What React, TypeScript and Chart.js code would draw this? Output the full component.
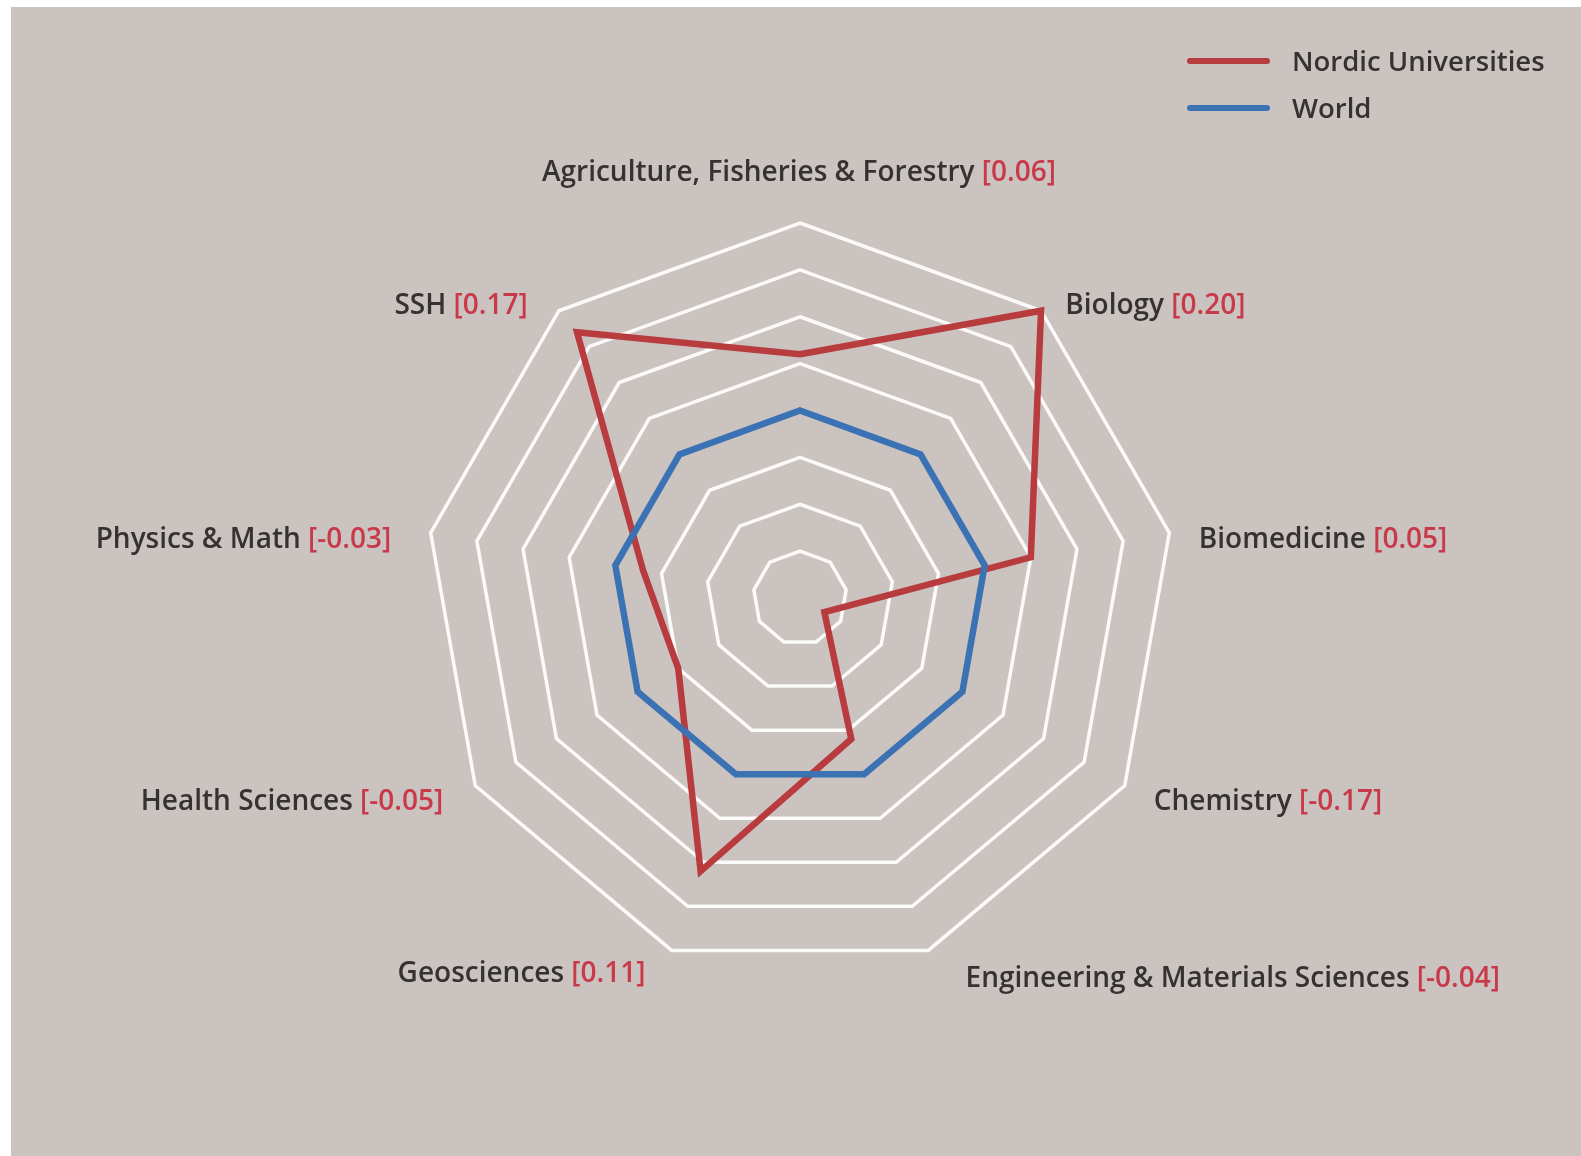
import React, { useEffect, useRef } from "react";
import { Chart, registerables } from "chart.js";

Chart.register(...registerables);

const categories = [
  "Agriculture, Fisheries & Forestry",
  "Biology",
  "Biomedicine",
  "Chemistry",
  "Engineering & Materials Sciences",
  "Geosciences",
  "Health Sciences",
  "Physics & Math",
  "SSH",
];
const nordicValues = [0.06, 0.2, 0.05, -0.17, -0.04, 0.11, -0.05, -0.03, 0.17];
const worldValues = [0, 0, 0, 0, 0, 0, 0, 0, 0];
const valueLabels = ["[0.06]", "[0.20]", "[0.05]", "[-0.17]", "[-0.04]", "[0.11]", "[-0.05]", "[-0.03]", "[0.17]"];
const seriesNames = ["Nordic Universities", "World"];

const RED = "#b83b3e";
const BLUE = "#3a72b4";
const LABEL_RED = "#c8394a";
const TEXT = "#353232";
const BG = "#cbc3c0";
const FONT = "600 28px 'Open Sans', Lato, sans-serif";
const LEGEND_FONT = "600 27.5px 'Open Sans', Lato, sans-serif";

// label placement tweaks (pixels) relative to anchor at outer radius + 30
const labelNudge = [
  [-1, -20],
  [5, 18],
  [0, 12],
  [3, 2],
  [27, 0],
  [-16, -5],
  [-6, 2],
  [-10, 12],
  [-12, 18],
];

const labelPlugin = {
  id: "customLabels",
  afterDatasetsDraw(chart: any) {
    const ctx = chart.ctx;
    const scale = chart.scales.r;
    ctx.save();
    ctx.font = FONT;
    ctx.textBaseline = "middle";
    categories.forEach((name, i) => {
      const p = scale.getPointPosition(i, scale.drawingArea + 30);
      const angle = (i * 360) / categories.length;
      const first = name + " ";
      const second = valueLabels[i];
      const w1 = ctx.measureText(first).width;
      const w2 = ctx.measureText(second).width;
      const total = w1 + w2;
      let left: number;
      if (angle === 0 || angle === 180) left = p.x - total / 2;
      else if (angle < 180) left = p.x;
      else left = p.x - total;
      left += labelNudge[i][0];
      const y = p.y + labelNudge[i][1];
      ctx.textAlign = "left";
      ctx.fillStyle = TEXT;
      ctx.fillText(first, left, y);
      ctx.fillStyle = LABEL_RED;
      ctx.fillText(second, left + w1, y);
    });

    // legend
    const colors = [RED, BLUE];
    const legX = chart.width - 391;
    ctx.font = LEGEND_FONT;
    seriesNames.forEach((n, i) => {
      const y = 54 + i * 47;
      ctx.strokeStyle = colors[i];
      ctx.lineWidth = 6;
      ctx.lineCap = "round";
      ctx.beginPath();
      ctx.moveTo(legX, y);
      ctx.lineTo(legX + 77, y);
      ctx.stroke();
      ctx.fillStyle = TEXT;
      ctx.textAlign = "left";
      ctx.fillText(n, legX + 102, y + 2);
    });
    ctx.restore();
  },
};

export default function App() {
  const ref = useRef<HTMLCanvasElement | null>(null);
  useEffect(() => {
    document.body.style.margin = "0";
    const chart = new Chart(ref.current as HTMLCanvasElement, {
      type: "radar",
      data: {
        labels: categories,
        datasets: [
          {
            label: seriesNames[0],
            data: nordicValues,
            borderColor: RED,
            backgroundColor: "transparent",
            borderWidth: 6.5,
            fill: false,
            pointRadius: 0,
            pointHoverRadius: 0,
            order: 2,
          },
          {
            label: seriesNames[1],
            data: worldValues,
            borderColor: BLUE,
            backgroundColor: "transparent",
            borderWidth: 6.5,
            fill: false,
            pointRadius: 0,
            pointHoverRadius: 0,
            order: 1,
          },
        ],
      },
      options: {
        animation: false,
        responsive: true,
        maintainAspectRatio: false,
        layout: { padding: { left: 414, right: 406, top: 216, bottom: 183 } },
        plugins: { legend: { display: false }, tooltip: { enabled: false } },
        elements: { line: { tension: 0, borderJoinStyle: "miter" } },
        scales: {
          r: {
            min: -0.2,
            max: 0.2,
            ticks: { stepSize: 0.05, display: false },
            grid: { color: "#fbfaf8", lineWidth: 3.5, circular: false },
            angleLines: { display: false },
            pointLabels: { display: false },
          },
        },
      },
      plugins: [labelPlugin],
    } as any);
    return () => chart.destroy();
  }, []);
  return (
    <div
      style={{
        position: "absolute",
        left: 11,
        top: 7,
        width: 1570,
        height: 1149,
        background: BG,
      }}
    >
      <canvas ref={ref} />
    </div>
  );
}
